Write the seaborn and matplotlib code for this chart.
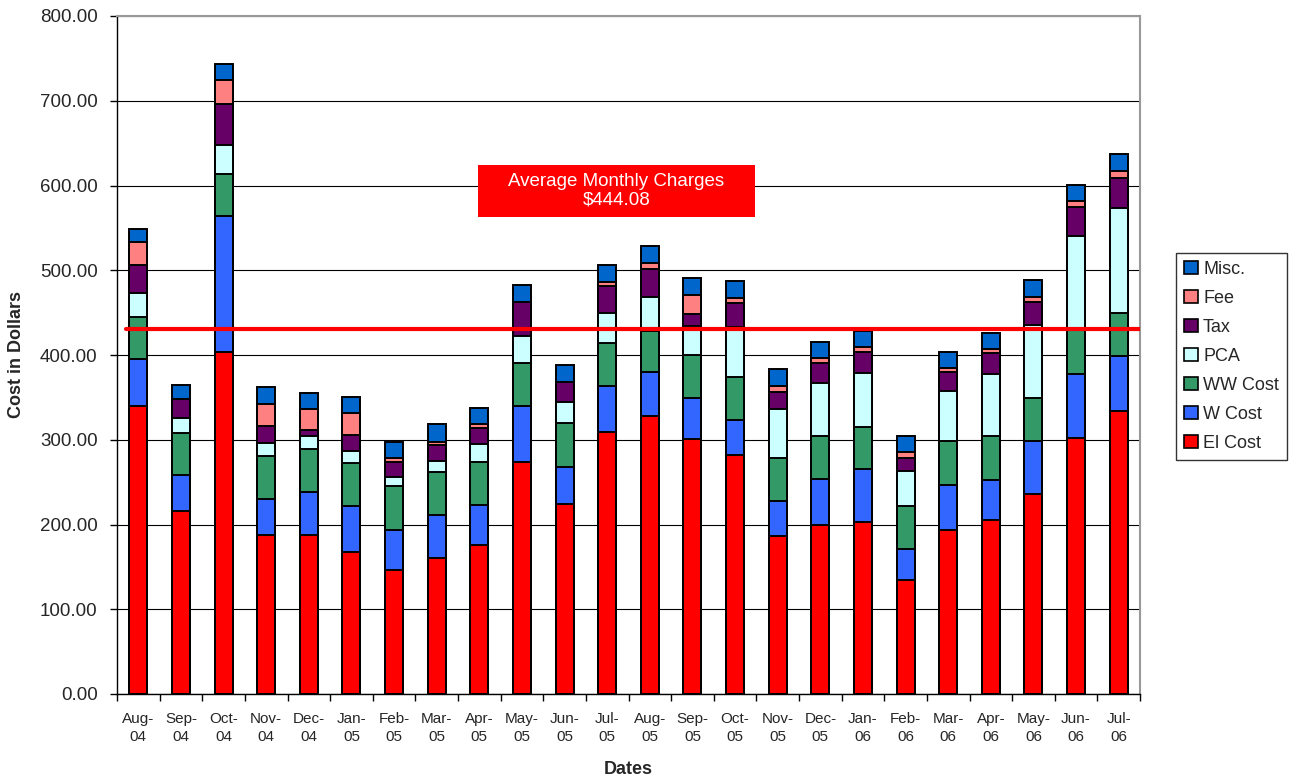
import matplotlib
matplotlib.use("Agg")
import matplotlib.pyplot as plt
import seaborn as sns
import numpy as np
from matplotlib.patches import Patch, Rectangle

# Monthly utility cost breakdown
dates = ["Aug-04", "Sep-04", "Oct-04", "Nov-04", "Dec-04", "Jan-05", "Feb-05", "Mar-05",
         "Apr-05", "May-05", "Jun-05", "Jul-05", "Aug-05", "Sep-05", "Oct-05", "Nov-05",
         "Dec-05", "Jan-06", "Feb-06", "Mar-06", "Apr-06", "May-06", "Jun-06", "Jul-06"]
el_cost = [340, 216, 403, 188, 188, 167, 146, 160, 176, 274, 224, 309,
           328, 301, 282, 186, 199, 203, 135, 193, 205, 236, 302, 334]
w_cost = [55, 42, 161, 42, 50, 55, 48, 51, 47, 66, 44, 54,
          52, 48, 41, 42, 55, 62, 36, 54, 48, 62, 76, 65]
ww_cost = [50, 50, 50, 51, 51, 51, 51, 51, 51, 50, 52, 51,
           48, 51, 51, 50, 50, 50, 51, 51, 51, 51, 51, 51]
pca = [28, 18, 34, 15, 15, 14, 11, 13, 21, 33, 25, 36,
       41, 34, 59, 58, 63, 64, 41, 60, 74, 86, 112, 123]
tax = [33, 22, 48, 20, 7, 19, 18, 19, 19, 40, 23, 31,
       32, 14, 28, 20, 23, 24, 16, 22, 24, 28, 34, 36]
fee = [27, 0, 29, 26, 25, 25, 4, 3.5, 4, 0, 0, 5,
       7, 23, 6, 7, 6, 7, 6, 5, 5, 6, 7, 8]
misc = [16, 17, 18, 20, 19, 19, 19, 20.5, 20, 20, 20, 20,
        21, 20, 20, 20, 19, 18, 19, 19, 19, 20, 19, 20]

series_names = ["El Cost", "W Cost", "WW Cost", "PCA", "Tax", "Fee", "Misc."]
series_vals = [el_cost, w_cost, ww_cost, pca, tax, fee, misc]
colors = ["#FF0000", "#3366FF", "#339966", "#CCFFFF", "#660066", "#FF8080", "#0066CC"]

avg_line = 431
avg_label = "Average Monthly Charges\n$444.08"

sns.set_theme(style="white")
plt.rcParams["font.family"] = ["Liberation Sans", "DejaVu Sans"]

fig = plt.figure(figsize=(12.9, 7.77), dpi=100)
ax = fig.add_axes([117 / 1290, 1 - 694 / 777, 1023 / 1290, 678 / 777])

# grid behind bars
ax.set_axisbelow(True)
ax.yaxis.grid(True, color="#000000", linewidth=0.8)

# stacked bars: draw cumulative totals from the top down
cum = np.cumsum(np.array(series_vals, dtype=float), axis=0)
for i in range(len(series_names) - 1, -1, -1):
    sns.barplot(x=dates, y=cum[i], color=colors[i], saturation=1, width=0.42,
                edgecolor="black", linewidth=1.4, errorbar=None, ax=ax)

ax.axhline(avg_line, xmin=0.009, xmax=1, color="#FF0000", linewidth=3, zorder=5)

ax.add_patch(Rectangle((0.3529, 0.7035), 0.2708, 0.0767, transform=ax.transAxes,
                       facecolor="#FF0000", edgecolor="none", zorder=6))
ax.text(0.4883, 0.7419, avg_label, transform=ax.transAxes, ha="center", va="center",
        color="white", fontsize=13.5, linespacing=1.12, zorder=7)

ax.set_ylim(0, 800)
ax.set_xlim(-0.5, len(dates) - 0.5)
ax.set_yticks(np.arange(0, 801, 100))
ax.set_yticklabels([f"{v:.2f}" for v in np.arange(0, 801, 100)], fontsize=13.5)
ax.set_xticks(range(len(dates)))
ax.set_xticklabels([d.replace("-", "-\n") for d in dates], fontsize=11, linespacing=1.35)
ax.set_xticks(np.arange(-0.5, len(dates), 1), minor=True)
ax.tick_params(axis="x", which="major", length=0, pad=13)
ax.tick_params(axis="x", which="minor", length=5, width=1, color="black", direction="out", bottom=True)
ax.tick_params(axis="y", length=5, width=1, color="black", direction="out", left=True, pad=9)

ax.set_xlabel("Dates", fontsize=13, fontweight="bold", labelpad=12)
ax.set_ylabel("Cost in Dollars", fontsize=13, fontweight="bold", labelpad=11)

for side in ["left", "bottom"]:
    ax.spines[side].set_color("black")
    ax.spines[side].set_linewidth(1)
for side in ["top", "right"]:
    ax.spines[side].set_color("#999999")
    ax.spines[side].set_linewidth(1.5)

handles = [Patch(facecolor=colors[i], edgecolor="black", linewidth=1.2, label=series_names[i])
           for i in range(len(series_names) - 1, -1, -1)]
leg = fig.legend(handles=handles, loc="upper left", bbox_to_anchor=(1176 / 1290, 1 - 253 / 777),
                 fontsize=13, frameon=True, fancybox=False, shadow=False, handlelength=0.75,
                 handleheight=0.75, handletextpad=0.3, labelspacing=0.66, borderpad=0.45,
                 borderaxespad=0)
leg.get_frame().set_edgecolor("black")
leg.get_frame().set_linewidth(1)

fig.savefig("out.png", dpi=100)
